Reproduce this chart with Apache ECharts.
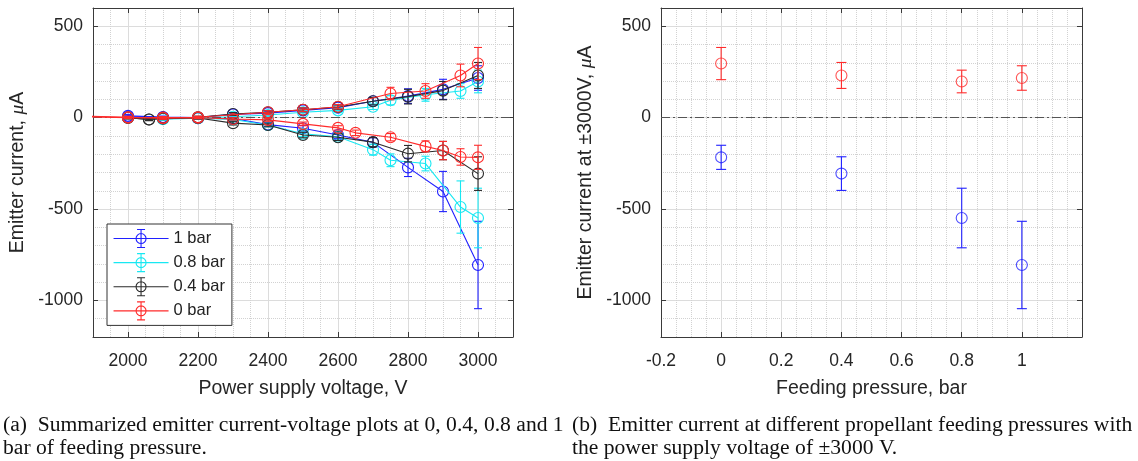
<!DOCTYPE html>
<html lang="en">
<head>
<meta charset="UTF-8">
<title>Emitter current</title>
<style>
    body { margin: 0; background: #fff; }
    #chart { width: 1138px; height: 461px; }
</style>
</head>
<body>
<div id="chart"></div>
<script src="https://cdn.jsdelivr.net/npm/echarts@6/dist/echarts.min.js"></script>
<script>
// ---- data ----
// (a) current vs power supply voltage, one positive and one negative branch per pressure
var bar1PosV   = [2000, 2100, 2200, 2300, 2400, 2500, 2600, 2700, 2800, 2900, 3000];
var bar1PosI   = [10, 3, 0, 18, 25, 40, 55, 90, 118, 155, 217];
var bar1PosErr = [8, 6, 6, 8, 10, 12, 15, 20, 40, 55, 67];
var bar1NegV   = [2000, 2100, 2200, 2300, 2400, 2500, 2600, 2700, 2800, 2900, 3000];
var bar1NegI   = [5, 0, -3, -5, -38, -58, -95, -135, -272, -404, -806];
var bar1NegErr = [8, 6, 6, 8, 10, 15, 20, 25, 50, 110, 239];

var bar08PosV   = [2000, 2100, 2200, 2300, 2400, 2500, 2600, 2700, 2750, 2850, 2950, 3000];
var bar08PosI   = [0, -5, 0, 5, 15, 30, 40, 60, 95, 125, 146, 198];
var bar08PosErr = [6, 6, 6, 6, 8, 10, 12, 15, 25, 35, 40, 62];
var bar08NegV   = [2000, 2100, 2200, 2300, 2400, 2500, 2600, 2700, 2750, 2850, 2950, 3000];
var bar08NegI   = [0, -8, -3, -10, -40, -88, -105, -175, -233, -251, -489, -549];
var bar08NegErr = [6, 6, 6, 8, 10, 15, 18, 30, 35, 40, 143, 163];

var bar04PosV   = [2000, 2060, 2100, 2200, 2300, 2400, 2500, 2600, 2700, 2800, 2900, 3000];
var bar04PosI   = [0, -10, 0, 2, 20, 30, 43, 58, 90, 115, 148, 231];
var bar04PosErr = [6, 6, 6, 6, 8, 8, 10, 12, 20, 40, 50, 71];
var bar04NegV   = [2000, 2060, 2100, 2200, 2300, 2400, 2500, 2600, 2700, 2800, 2900, 3000];
var bar04NegI   = [0, -10, -5, -2, -30, -40, -95, -107, -134, -197, -180, -306];
var bar04NegErr = [6, 6, 6, 6, 10, 10, 15, 18, 25, 45, 50, 92];

var bar0PosV   = [1800, 2000, 2100, 2200, 2400, 2500, 2600, 2750, 2850, 2950, 3000];
var bar0PosI   = [12, 2, 0, 2, 30, 43, 60, 132, 146, 231, 296];
var bar0PosErr = [6, 6, 6, 6, 8, 10, 12, 34, 40, 62, 88];
var bar0NegV   = [1800, 2000, 2100, 2200, 2300, 2400, 2500, 2600, 2650, 2750, 2850, 2900, 2950, 3000];
var bar0NegI   = [8, 0, -3, 0, -7, -12, -34, -56, -83, -107, -157, -180, -215, -217];
var bar0NegErr = [6, 6, 6, 6, 6, 8, 10, 12, 15, 20, 30, 50, 45, 66];

// (b) current at +/-3000 V vs feeding pressure
var pressure     = [0, 0.4, 0.8, 1];
var posAt3000    = [296, 231, 198, 217];
var posAt3000Err = [88, 71, 62, 67];
var negAt3000    = [-217, -306, -549, -806];
var negAt3000Err = [66, 92, 163, 239];

// tick labels
var voltTicks     = [2000, 2200, 2400, 2600, 2800, 3000];
var currentTicks  = [-1000, -500, 0, 500];
var pressureTicks = [-0.2, 0, 0.2, 0.4, 0.6, 0.8, 1];
var legendNames   = ['1 bar', '0.8 bar', '0.4 bar', '0 bar'];

// ---- styles ----
var FONT = "'Liberation Sans', Arial, Helvetica, sans-serif";
var AXIS = '#3a3a3a', MAJOR = '#dcdcdc', MINOR = '#d2d2d2', NONE = 'rgba(0,0,0,0)';
var BLUE = '#2020ff', CYAN = '#18e8f2', BLACK = '#2b2b2b', RED = '#ff2b2b';
var colors = [BLUE, CYAN, BLACK, RED];

var myChart = echarts.init(document.getElementById('chart'));

function zip3(V, I, E) {
    return V.map(function (v, i) { return [v, I[i] - E[i], I[i] + E[i]]; });
}

function errRender(cap) {
    return function (params, api) {
        var x = api.value(0);
        var top = api.coord([x, api.value(2)]);
        var bot = api.coord([x, api.value(1)]);
        var cs = params.coordSys;
        if (top[0] < cs.x - 1 || top[0] > cs.x + cs.width + 1) return;
        var st = { stroke: api.visual('color'), lineWidth: 1.1 };
        return {
            type: 'group',
            children: [
                { type: 'line', shape: { x1: top[0], y1: top[1], x2: bot[0], y2: bot[1] }, style: st },
                { type: 'line', shape: { x1: top[0] - cap, y1: top[1], x2: top[0] + cap, y2: top[1] }, style: st },
                { type: 'line', shape: { x1: bot[0] - cap, y1: bot[1], x2: bot[0] + cap, y2: bot[1] }, style: st }
            ]
        };
    };
}

// line + error bars for one branch
function branch(name, color, V, I, E, z) {
    return [{
        name: name, type: 'line', xAxisIndex: 0, yAxisIndex: 0, z: z,
        data: V.map(function (v, i) { return [v, I[i]]; }),
        symbol: 'circle', symbolSize: 11,
        lineStyle: { color: color, width: 1.1 },
        itemStyle: { color: NONE, borderColor: color, borderWidth: 1.1 },
        emphasis: { disabled: true }
    }, {
        name: name, type: 'custom', xAxisIndex: 0, yAxisIndex: 0, z: z,
        data: zip3(V, I, E),
        encode: { x: 0, y: [1, 2] },
        itemStyle: { color: color },
        renderItem: errRender(4)
    }];
}

// main axis (labels, major grid), mirror axis (box side ticks), minor axis (dotted grid)
function axisSet(kind, gridIndex, min, max, step, ticks, name, nameGap) {
    var minors = [];
    var n = Math.round((max - min) / step);
    for (var k = 1; k < n; k++) {
        var v = +(min + k * step).toFixed(6);
        var isMajor = ticks.some(function (t) { return Math.abs(t - v) < step * 1e-3; });
        if (!isMajor) minors.push(v);
    }
    var base = { type: 'value', gridIndex: gridIndex, min: min, max: max };
    var main = Object.assign({}, base, {
        position: kind === 'x' ? 'bottom' : 'left',
        name: name, nameLocation: 'middle', nameGap: nameGap,
        nameTextStyle: { fontFamily: FONT, fontSize: 19.5, color: '#262626',
            rich: { i: { fontFamily: "'Liberation Serif', serif", fontStyle: 'italic', fontSize: 19.5, color: '#262626' } } },
        axisLine: { show: true, onZero: false, lineStyle: { color: AXIS } },
        axisTick: { show: true, inside: true, length: 5, customValues: ticks, lineStyle: { color: AXIS } },
        axisLabel: {
            customValues: ticks, margin: kind === 'x' ? 15 : 10,
            fontFamily: FONT, fontSize: 17.5, color: '#262626',
            formatter: function (v) { return String(+(+v).toFixed(4)); }
        },
        splitLine: { show: true, lineStyle: { color: MAJOR, width: 1 } }
    });
    var mirror = Object.assign({}, base, {
        position: kind === 'x' ? 'top' : 'right',
        axisLine: { show: true, onZero: false, lineStyle: { color: AXIS } },
        axisTick: { show: true, inside: true, length: 5, customValues: ticks, lineStyle: { color: AXIS } },
        axisLabel: { show: false },
        splitLine: { show: false }
    });
    var minor = Object.assign({}, base, {
        position: kind === 'x' ? 'bottom' : 'left',
        axisLine: { show: false, onZero: false },
        axisTick: { show: false, customValues: minors },
        axisLabel: { show: false, customValues: minors },
        splitLine: { show: true, lineStyle: { color: MINOR, width: 1, type: 'dotted' } }
    });
    return [main, mirror, minor];
}

var xA = axisSet('x', 0, 1900, 3100, 50, voltTicks, 'Power supply voltage, V', 42);
var yA = axisSet('y', 0, -1200, 600, 100, currentTicks, 'Emitter current, {i|μ}A', 65);
var xB = axisSet('x', 1, -0.2, 1.2, 0.05, pressureTicks, 'Feeding pressure, bar', 42);
var yB = axisSet('y', 1, -1200, 600, 100, currentTicks, 'Emitter current at ±3000V, {i|μ}A', 65);

var zeroLine = {
    silent: true, symbol: ['none', 'none'], label: { show: false },
    lineStyle: { color: '#555', width: 1, type: [9, 3, 2, 3] },
    data: [{ yAxis: 0 }]
};

var series = [].concat(
    branch(legendNames[0], BLUE, bar1PosV, bar1PosI, bar1PosErr, 2),
    branch(legendNames[0], BLUE, bar1NegV, bar1NegI, bar1NegErr, 2),
    branch(legendNames[1], CYAN, bar08PosV, bar08PosI, bar08PosErr, 3),
    branch(legendNames[1], CYAN, bar08NegV, bar08NegI, bar08NegErr, 3),
    branch(legendNames[2], BLACK, bar04PosV, bar04PosI, bar04PosErr, 4),
    branch(legendNames[2], BLACK, bar04NegV, bar04NegI, bar04NegErr, 4),
    branch(legendNames[3], RED, bar0PosV, bar0PosI, bar0PosErr, 5),
    branch(legendNames[3], RED, bar0NegV, bar0NegI, bar0NegErr, 5)
);
series[0].markLine = zeroLine;

// (b) panel, its main axes are index 3
[[posAt3000, posAt3000Err, RED], [negAt3000, negAt3000Err, BLUE]].forEach(function (s, k) {
    series.push({
        type: 'scatter', xAxisIndex: 3, yAxisIndex: 3, z: 3,
        data: pressure.map(function (p, i) { return [p, s[0][i]]; }),
        symbol: 'circle', symbolSize: 11,
        itemStyle: { color: NONE, borderColor: s[2], borderWidth: 1.1 },
        emphasis: { disabled: true },
        markLine: k === 0 ? zeroLine : undefined
    });
    series.push({
        type: 'custom', xAxisIndex: 3, yAxisIndex: 3, z: 3,
        data: zip3(pressure, s[0], s[1]),
        encode: { x: 0, y: [1, 2] },
        itemStyle: { color: s[2] },
        renderItem: errRender(5)
    });
});

var ERR_ICON = 'path://M0,9 L55,9 M27.5,0 L27.5,18 M23.5,0 L31.5,0 M23.5,18 L31.5,18 ' +
    'M32.5,9 A5,5 0 1,1 22.5,9 A5,5 0 1,1 32.5,9';

var capFont = "21.6px 'Liberation Serif', 'Times New Roman', serif";
function caption(x, y, text) {
    return { type: 'text', x: x, y: y, style: { text: text, font: capFont, fill: '#111', verticalAlign: 'middle' } };
}

var option = {
    animation: false,
    backgroundColor: '#fff',
    grid: [
        { left: 93, top: 8, width: 420, height: 329 },
        { left: 661, top: 8, width: 421, height: 329 }
    ],
    xAxis: xA.concat(xB),
    yAxis: yA.concat(yB),
    legend: {
        left: 107, top: 224, orient: 'vertical',
        itemWidth: 55, itemHeight: 18, itemGap: 5,
        padding: [5, 7, 5, 6], borderColor: '#333', borderWidth: 1, backgroundColor: '#fff',
        icon: ERR_ICON, selectedMode: false,
        textStyle: { fontFamily: FONT, fontSize: 16.5, color: '#222' },
        data: legendNames.map(function (n, i) {
            return { name: n, itemStyle: { color: NONE, borderColor: colors[i], borderWidth: 1.1 } };
        })
    },
    graphic: [
        caption(3, 425, '(a)  Summarized emitter current-voltage plots at 0, 0.4, 0.8 and 1'),
        caption(3, 448, 'bar of feeding pressure.'),
        caption(572, 425, '(b)  Emitter current at different propellant feeding pressures with'),
        caption(572, 448, 'the power supply voltage of ±3000 V.')
    ],
    series: series
};

myChart.setOption(option);
</script>
</body>
</html>
